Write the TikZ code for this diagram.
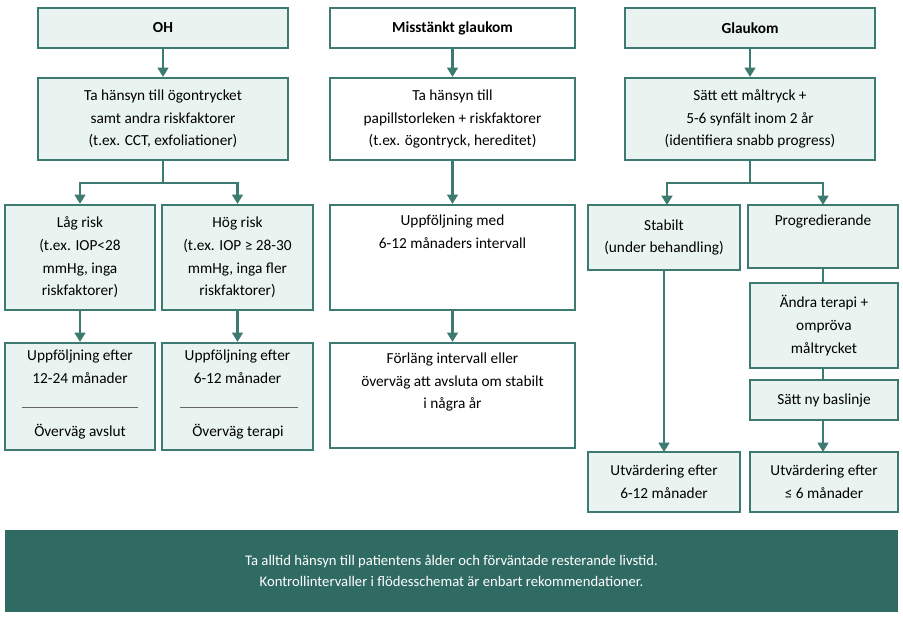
\documentclass[tikz,border=0pt]{standalone}
\usepackage{fontspec}
\setmainfont{Carlito}
\usetikzlibrary{arrows.meta}
\definecolor{tl}{HTML}{3D7B72}
\definecolor{mint}{HTML}{E9F4F1}
\definecolor{ban}{HTML}{2F6B63}
\newcommand\bx[6]{\node[box,fill=#6,minimum width={(#4-#2)*0.75pt},minimum height={(#5-#3)*0.75pt}] (#1) at ({(#2+#4)/2},{(#3+#5)/2}) {};}
\begin{document}
\begin{tikzpicture}[x=0.75pt,y=-0.75pt,
  box/.style={draw=tl,line width=1.6pt,inner sep=0pt},
  tt/.style={anchor=north,align=center,inner sep=0pt,font=\fontsize{11.5}{17}\selectfont},
  ct/.style={align=center,inner sep=0pt,font=\fontsize{11.5}{17}\selectfont},
  ar/.style={draw=tl,line width=2.2pt,-{Triangle[length=7pt,width=8pt]}},
  ln/.style={draw=tl,line width=2.2pt}]
\useasboundingbox (0,0) rectangle (903,618);
% column 1
\bx{oh}{38}{8}{288}{48}{mint}
\node[ct,font=\fontsize{11.5}{17}\selectfont\bfseries] at (oh) {OH};
\bx{oha}{38}{78}{288}{160}{mint}
\node[ct] at (oha) {Ta hänsyn till ögontrycket\\samt andra riskfaktorer\\(t.ex. CCT, exfoliationer)};
\bx{low}{5}{205}{155}{310}{mint}
\node[ct] at (low) {Låg risk\\(t.ex. IOP<28\\mmHg, inga\\riskfaktorer)};
\bx{high}{162}{205}{313}{310}{mint}
\node[ct] at (high) {Hög risk\\(t.ex. IOP ≥ 28-30\\mmHg, inga fler\\riskfaktorer)};
\bx{lowf}{5}{343}{155}{450}{mint}
\node[tt] at ([yshift=-6pt]lowf.north) {Uppföljning efter\\12-24 månader};
\node[ct] (lowx) at (80,432) {Överväg avslut};
\draw[black!60,line width=0.6pt] (22,407) -- (138,407);
\bx{highf}{162}{343}{313}{450}{mint}
\node[tt] at ([yshift=-6pt]highf.north) {Uppföljning efter\\6-12 månader};
\node[ct] (highx) at (238,432) {Överväg terapi};
\draw[black!60,line width=0.6pt] (180,407) -- (298,407);
\draw[ar] (oh) -- (oha);
\coordinate (b1) at (163,183);
\draw[ln] (oha.south) -- (b1);
\draw[ar] (b1) -| (low.north);
\draw[ar] (b1) -| (high.north);
\draw[ar] (low) -- (lowf);
\draw[ar] (high) -- (highf);
% column 2
\bx{mg}{330}{8}{575}{48}{white}
\node[ct,font=\fontsize{11.5}{17}\selectfont\bfseries] at (mg) {Misstänkt glaukom};
\bx{mga}{330}{78}{575}{160}{white}
\node[ct] at (mga) {Ta hänsyn till\\papillstorleken + riskfaktorer\\(t.ex. ögontryck, hereditet)};
\bx{mgb}{330}{205}{575}{310}{white}
\node[tt] at ([yshift=-8pt]mgb.north) {Uppföljning med\\6-12 månaders intervall};
\bx{mgc}{330}{343}{575}{448}{white}
\node[tt] at ([yshift=-8pt]mgc.north) {Förläng intervall eller\\överväg att avsluta om stabilt\\i några år};
\draw[ar] (mg) -- (mga);
\draw[ar] (mga) -- (mgb);
\draw[ar] (mgb) -- (mgc);
% column 3
\bx{gl}{625}{8}{875}{48}{mint}
\node[ct,font=\fontsize{11.5}{17}\selectfont\bfseries] at (gl) {Glaukom};
\bx{gla}{625}{78}{875}{160}{mint}
\node[ct] at (gla) {Sätt ett måltryck +\\5-6 synfält inom 2 år\\(identifiera snabb progress)};
\bx{st}{588}{205}{740}{270}{mint}
\node[ct] at (st) {Stabilt\\(under behandling)};
\bx{pr}{748}{205}{898}{268}{mint}
\node[tt] at ([yshift=-8pt]pr.north) {Progredierande};
\bx{an}{750}{283}{898}{368}{mint}
\node[ct] at (an) {Ändra terapi +\\ompröva\\måltrycket};
\bx{nb}{750}{380}{898}{420}{mint}
\node[ct] at (nb) {Sätt ny baslinje};
\bx{ul}{588}{452}{740}{512}{mint}
\node[ct] at (ul) {Utvärdering efter\\6-12 månader};
\bx{ur}{750}{452}{898}{512}{mint}
\node[ct] at (ur) {Utvärdering efter\\≤ 6 månader};
\draw[ar] (gl) -- (gla);
\coordinate (b3) at (750,183);
\draw[ln] (gla.south) -- (b3);
\draw[ar] (b3) -| (667,205);
\draw[ar] (b3) -| (823,205);
\draw[ar] (664,270) -- (664,452);
\draw[ln] (823,268) -- (823,283);
\draw[ln] (823,368) -- (823,380);
\draw[ar] (823,420) -- (823,452);
% banner
\node[fill=ban,minimum width={893*0.75pt},minimum height={82*0.75pt},inner sep=0pt] (bn) at (451.5,571) {};
\node[ct,text=white,font=\fontsize{11}{16}\selectfont] at (bn) {Ta alltid hänsyn till patientens ålder och förväntade resterande livstid.\\Kontrollintervaller i flödesschemat är enbart rekommendationer.};
\end{tikzpicture}
\end{document}
